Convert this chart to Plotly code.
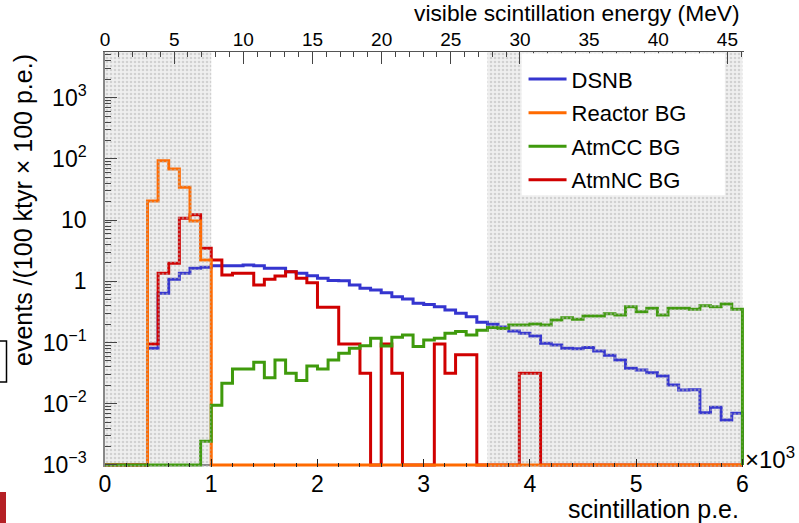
import plotly.graph_objects as go

# Binning: 60 bins of 100 p.e. from 0 to 6000 p.e.
pe_edges = list(range(0, 6001, 100))
PE_PER_MEV = 130.2  # conversion used for the top (energy) axis

# Event rates per bin, events / (100 ktyr x 100 p.e.)
dsnb = [0, 0, 0, 0, 0.081, 0.64, 1.08, 1.36, 1.64, 1.70,
        1.79, 1.79, 1.80, 1.85, 1.80, 1.64, 1.63, 1.44, 1.36, 1.24,
        1.12, 1.03, 1.02, 0.873, 0.772, 0.723, 0.654, 0.562, 0.516, 0.439,
        0.42, 0.386, 0.341, 0.301, 0.265, 0.215, 0.20, 0.18, 0.155, 0.142,
        0.128, 0.097, 0.091, 0.081, 0.079, 0.083, 0.073, 0.062, 0.052, 0.038,
        0.0357, 0.0322, 0.0285, 0.0203, 0.0168, 0.017, 0.00716, 0.00877, 0.00543, 0.007]

reactor_bg = [0, 0, 0, 0, 20.6, 93.0, 68.7, 34.5, 9.7, 2.24] + [0] * 50

atmcc_bg = [0, 0, 0, 0, 0, 0, 0, 0, 0,
            0.00245, 0.0095, 0.0216, 0.037, 0.037, 0.0476, 0.0267, 0.052, 0.0315, 0.0239, 0.0415,
            0.037, 0.052, 0.067, 0.081, 0.089, 0.118, 0.088, 0.122, 0.133, 0.086,
            0.110, 0.118, 0.142, 0.151, 0.133, 0.159, 0.177, 0.170, 0.194, 0.194,
            0.201, 0.194, 0.234, 0.255, 0.240, 0.272, 0.272, 0.296, 0.282, 0.386,
            0.320, 0.363, 0.282, 0.363, 0.363, 0.350, 0.400, 0.386, 0.427, 0.350]

atmnc_bg = [0, 0, 0, 0, 0.095, 1.36, 1.98, 10.7, 12.2, 3.47,
            2.24, 1.27, 1.36, 1.36, 0.873, 1.08, 1.22, 1.44, 1.12, 0.953,
            0.379, 0.379, 0.0948, 0.0948, 0.0316, 0, 0.0948, 0.0316, 0, 0,
            0, 0.0948, 0.0316, 0.0632, 0.0632, 0, 0, 0, 0, 0.0316,
            0.0316] + [0] * 19

series_names = ["DSNB", "Reactor BG", "AtmCC BG", "AtmNC BG"]
series_colors = ["#3535cf", "#ff6a00", "#3f9a0c", "#d00000"]

# Analysis-excluded p.e. windows (shaded)
shade_ranges = [(0, 1000), (3600, 6000)]

y_tick_vals = [1e-3, 1e-2, 1e-1, 1, 10, 100, 1000]
y_tick_text = ["10<sup>\u22123</sup>", "10<sup>\u22122</sup>", "10<sup>\u22121</sup>",
               "1", "10", "10<sup>2</sup>", "10<sup>3</sup>"]

FLOOR = 1e-3
FONT = "Liberation Sans, Arial, Helvetica, sans-serif"

X_MAX = 6.015          # in units of 10^3 p.e.
Y_RANGE = [-3.033, 3.747]


def step_xy(values):
    """Outline of a histogram drawn ROOT-style (empty bins sit on the floor)."""
    xs = [e / 1000 for e in pe_edges[:-1]] + [pe_edges[-1] / 1000, pe_edges[-1] / 1000]
    ys = [v if v > 0 else FLOOR for v in values]
    ys = ys + [ys[-1], FLOOR]
    return xs, ys


fig = go.Figure()

# draw order: DSNB, AtmNC, Reactor, AtmCC (legend order set by legendrank)
draw_order = [0, 3, 1, 2]
all_series = [dsnb, reactor_bg, atmcc_bg, atmnc_bg]
for idx in draw_order:
    xs, ys = step_xy(all_series[idx])
    fig.add_trace(go.Scatter(
        x=xs, y=ys, mode="lines", line=dict(color=series_colors[idx], width=3, shape="hv"),
        name=series_names[idx], legendrank=idx + 1, legendgroup=series_names[idx],
        hoverinfo="skip",
    ))

# dotted overlay for the shaded windows
for lo, hi in shade_ranges:
    fig.add_trace(go.Scatter(
        x=[lo / 1000, hi / 1000, hi / 1000, lo / 1000, lo / 1000],
        y=[1e-5, 1e-5, 1e5, 1e5, 1e-5],
        mode="lines", line=dict(width=0), fill="toself",
        fillcolor="rgba(0,0,0,0)",
        fillpattern=dict(shape=".", fgcolor="#b4b4b4", bgcolor="rgba(0,0,0,0)",
                         size=4, solidity=0.35),
        showlegend=False, hoverinfo="skip",
    ))

# empty trace so the top energy axis is created
fig.add_trace(go.Scatter(x=[], y=[], xaxis="x2", showlegend=False, hoverinfo="skip"))

shapes = []
for lo, hi in shade_ranges:
    shapes.append(dict(type="rect", xref="x", yref="paper", x0=lo / 1000, x1=hi / 1000,
                       y0=0, y1=1, fillcolor="#efefef", line=dict(width=0), layer="below"))
# floor line of the frame
shapes.append(dict(type="line", xref="x", yref="y", x0=0, x1=6.0, y0=FLOOR, y1=FLOOR,
                   line=dict(color="#222222", width=1.2), layer="below"))
# white legend panel
shapes.append(dict(type="rect", xref="paper", yref="paper", x0=0.652, x1=0.970,
                   y0=0.655, y1=0.997, fillcolor="white", line=dict(width=0), layer="above"))
# neighbouring panel edges at the left border of the canvas
shapes.append(dict(type="rect", xref="paper", yref="paper",
                   x0=(-20 - 105) / 639, x1=(6.5 - 105) / 639,
                   y0=(467 - 382) / 415, y1=(467 - 341) / 415,
                   line=dict(color="black", width=1.5), fillcolor="rgba(0,0,0,0)"))
shapes.append(dict(type="rect", xref="paper", yref="paper",
                   x0=(-20 - 105) / 639, x1=(6 - 105) / 639,
                   y0=(467 - 530) / 415, y1=(467 - 492) / 415,
                   line=dict(width=0), fillcolor="#b52025"))

annotations = [
    dict(text="events /(100 ktyr \u00d7 100 p.e.)", textangle=-90, xref="paper", yref="paper",
         x=(23 - 105) / 639, y=1.0, xanchor="center", yanchor="top", showarrow=False,
         font=dict(size=25, color="black", family=FONT)),
    dict(text="scintillation p.e.", xref="paper", yref="paper", x=(741 - 105) / 639,
         y=(467 - 509) / 415, xanchor="right", yanchor="middle", showarrow=False,
         font=dict(size=25, color="black", family=FONT)),
    dict(text="\u00d710<sup>3</sup>", xref="paper", yref="paper", x=(743 - 105) / 639,
         y=(467 - 458) / 415, xanchor="left", yanchor="middle", showarrow=False,
         font=dict(size=24, color="black", family=FONT)),
    dict(text="visible scintillation energy (MeV)", xref="paper", yref="paper",
         x=(742 - 105) / 639, y=(467 - 13) / 415, xanchor="right", yanchor="middle",
         showarrow=False, font=dict(size=22.8, color="black", family=FONT)),
]

fig.update_layout(
    width=799, height=523,
    margin=dict(l=105, r=799 - 105 - 639, t=52, b=523 - 52 - 415),
    paper_bgcolor="white", plot_bgcolor="white",
    font=dict(family=FONT, color="black"),
    shapes=shapes, annotations=annotations,
    showlegend=True,
    legend=dict(x=0.655, y=0.985, xanchor="left", yanchor="top", itemwidth=38,
                bgcolor="rgba(0,0,0,0)", borderwidth=0, tracegroupgap=2,
                font=dict(size=22, family=FONT, color="black")),
    xaxis=dict(range=[0, X_MAX], dtick=1, tick0=0, showgrid=False, zeroline=False,
               showline=False, ticks="inside", ticklen=8, tickcolor="#222",
               tickfont=dict(size=23), ticklabelstandoff=1,
               minor=dict(ticks="inside", ticklen=4, dtick=0.2, tickcolor="#222", showgrid=False)),
    xaxis2=dict(overlaying="x", side="top", range=[0, X_MAX * 1000 / PE_PER_MEV],
                dtick=5, tick0=0, showgrid=False, zeroline=False, showline=True,
                linecolor="#555", linewidth=1, ticks="inside", ticklen=12, tickcolor="#444",
                tickfont=dict(size=19), ticklabelstandoff=-3,
                minor=dict(ticks="inside", ticklen=5, dtick=1, tickcolor="#444", showgrid=False)),
    yaxis=dict(type="log", range=Y_RANGE, tickvals=y_tick_vals, ticktext=y_tick_text,
               showgrid=False, zeroline=False, showline=True, linecolor="#888", linewidth=1.5,
               ticks="inside", ticklen=12, tickcolor="#444", tickfont=dict(size=23),
               ticklabelstandoff=12,
               minor=dict(ticks="inside", ticklen=6, tickcolor="#444", showgrid=False,
                          tickvals=[m * 10 ** p for p in range(-3, 4) for m in range(2, 10)])),
)

fig.write_html("out.html")
